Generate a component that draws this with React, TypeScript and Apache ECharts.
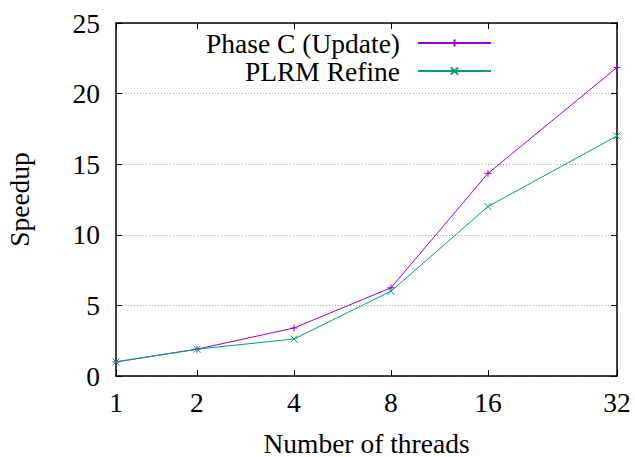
import React, { useEffect, useRef } from "react";
import * as echarts from "echarts";

// Thread counts on the x axis and the measured speedups for each phase.
const threads = [1, 2, 4, 8, 16, 32];
const phaseCUpdate = [1.0, 1.9, 3.4, 6.25, 14.35, 21.85];
const plrmRefine = [1.0, 1.9, 2.62, 6.0, 12.0, 17.0];
const seriesNames = ["Phase C (Update)", "PLRM Refine"];
const speedupTicks = [0, 5, 10, 15, 20, 25];

// Where each thread count sits along the x axis (inner ticks evenly spaced,
// first and last pinned to the frame).
const threadAxisSlots = [0, 0.835, 1.835, 2.835, 3.835, 5.165];

const FONT = "Liberation Serif";
const PURPLE = "#9400d3";
const TEAL = "#009e73";

const plusPath = "path://M0,5L10,5M5,0L5,10";
const crossPath = "path://M0,0L10,10M0,10L10,0";

export default function App() {
  const ref = useRef<HTMLDivElement>(null);

  useEffect(() => {
    if (!ref.current) return;
    const chart = echarts.init(ref.current, undefined, { renderer: "svg" });

    const slotLabel = (v: number) => {
      const i = threadAxisSlots.findIndex((s) => Math.abs(s - v) < 1e-6);
      return i >= 0 ? String(threads[i]) : "";
    };

    const xMin = threadAxisSlots[0];
    const xMax = threadAxisSlots[threadAxisSlots.length - 1];
    const yMin = speedupTicks[0];
    const yMax = speedupTicks[speedupTicks.length - 1];
    const yStep = speedupTicks[1] - speedupTicks[0];

    const frameLine = { show: true, onZero: false, lineStyle: { color: "#000", width: 1.5 } };
    const innerTick = { show: true, inside: true, length: 6, lineStyle: { color: "#000", width: 1 } };

    const mkSeries = (name: string, values: number[], color: string, symbol: string) => ({
      name,
      type: "line",
      xAxisIndex: 0,
      yAxisIndex: 0,
      data: values.map((v, i) => [threadAxisSlots[i], v]),
      symbol,
      symbolSize: 7,
      showSymbol: true,
      lineStyle: { color, width: 1 },
      itemStyle: { color, borderColor: color, borderWidth: 1 },
    });

    chart.setOption({
      animation: false,
      backgroundColor: "#fff",
      textStyle: { fontFamily: FONT },
      grid: {
        left: 116,
        right: 18,
        top: 23,
        bottom: 81,
        containLabel: false,
        outerBoundsMode: "none",
      },
      legend: {
        show: true,
        orient: "vertical",
        align: "right",
        right: 143,
        top: 29,
        itemWidth: 73,
        itemHeight: 9,
        itemGap: 0,
        padding: 0,
        textStyle: {
          fontFamily: FONT,
          fontSize: 27.5,
          color: "#000",
          lineHeight: 27.5,
          padding: [0, 13, 0, 0],
        },
        data: seriesNames,
      },
      xAxis: [
        {
          type: "value",
          position: "bottom",
          min: xMin,
          max: xMax,
          name: "Number of threads",
          nameLocation: "middle",
          nameGap: 53,
          nameTextStyle: { fontFamily: FONT, fontSize: 27.5, color: "#000" },
          axisLine: frameLine,
          axisTick: { ...innerTick, customValues: threadAxisSlots },
          axisLabel: {
            show: true,
            customValues: threadAxisSlots,
            formatter: slotLabel,
            fontFamily: FONT,
            fontSize: 27.5,
            color: "#000",
            margin: 12,
          },
          splitLine: { show: false },
        },
        {
          type: "value",
          position: "top",
          min: xMin,
          max: xMax,
          axisLine: frameLine,
          axisTick: { ...innerTick, customValues: threadAxisSlots },
          axisLabel: { show: false },
          splitLine: { show: false },
        },
      ],
      yAxis: [
        {
          type: "value",
          position: "left",
          min: yMin,
          max: yMax,
          interval: yStep,
          name: "Speedup",
          nameLocation: "middle",
          nameGap: 83,
          nameRotate: 90,
          nameTextStyle: { fontFamily: FONT, fontSize: 27.5, color: "#000" },
          axisLine: frameLine,
          axisTick: innerTick,
          axisLabel: {
            show: true,
            fontFamily: FONT,
            fontSize: 27.5,
            color: "#000",
            margin: 16,
          },
          splitLine: {
            show: true,
            lineStyle: { color: "#a8a8a8", width: 1, type: [1, 2] },
          },
        },
        {
          type: "value",
          position: "right",
          min: yMin,
          max: yMax,
          interval: yStep,
          axisLine: frameLine,
          axisTick: innerTick,
          axisLabel: { show: false },
          splitLine: { show: false },
        },
      ],
      series: [
        mkSeries(seriesNames[0], phaseCUpdate, PURPLE, plusPath),
        mkSeries(seriesNames[1], plrmRefine, TEAL, crossPath),
      ],
    });

    return () => chart.dispose();
  }, []);

  return (
    <div
      ref={ref}
      style={{ position: "absolute", left: 0, top: 0, width: 635, height: 457 }}
    />
  );
}
